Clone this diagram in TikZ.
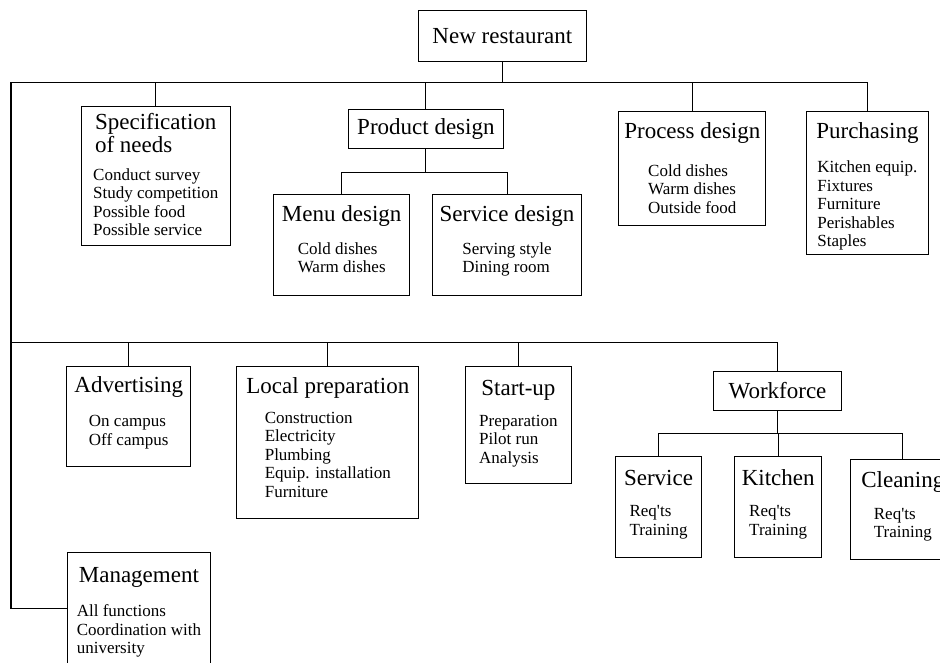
\documentclass[tikz,border=0pt]{standalone}
\usepackage{fontspec}
\setmainfont{Liberation Serif}

\newcommand{\hdfont}{\fontsize{23}{23.5}\selectfont}
\newcommand{\lnfont}{\fontsize{17}{18.5}\selectfont}
% [top pad][gap under heading]{width}{height}{heading}{lines}
\NewDocumentCommand{\unitbox}{O{10pt} O{11pt} m m m m}{%
  \parbox[t][#4][t]{#3}{\centering\vspace*{#1}%
    {\hdfont\begin{tabular}[t]{@{}l@{}}#5\end{tabular}\par}%
    \nointerlineskip\vspace{#2}%
    {\lnfont\begin{tabular}[t]{@{}l@{}}#6\end{tabular}\par}}}

\begin{document}
\begin{tikzpicture}[x=1pt,y=-1pt,line width=1.1pt]
  \tikzstyle{unit}=[draw, rectangle, inner sep=0pt, anchor=north west]
  \tikzstyle{head}=[unit, font=\hdfont]
  \useasboundingbox (0,0) rectangle (940,662);

  % project and first row of tasks
  \node[head, minimum width=167.7pt, minimum height=51pt] (newres) at (418,10) {New restaurant};
  \node[unit] (spec) at (80.7,105.7) {\unitbox[6.4pt][7.6pt]{149pt}{139.3pt}{Specification\\of needs}{Conduct survey\\Study competition\\Possible food\\Possible service}};
  \node[head, minimum width=155.3pt, minimum height=38.7pt] (prod) at (347.7,109) {Product design};
  \node[unit] (menu) at (273,194) {\unitbox[10pt][13pt]{136.3pt}{100.7pt}{Menu design}{Cold dishes\\Warm dishes}};
  \node[unit] (servd) at (431.7,194) {\unitbox[10pt][13pt]{149.6pt}{100.7pt}{Service design}{Serving style\\Dining room}};
  \node[unit] (proc) at (618.3,111) {\unitbox[10pt][18pt]{147pt}{114.3pt}{Process design}{Cold dishes\\Warm dishes\\Outside food}};
  \node[unit] (purch) at (805.7,111) {\unitbox[10pt][14.7pt]{122.3pt}{143pt}{Purchasing}{Kitchen equip.\\Fixtures\\Furniture\\Perishables\\Staples}};

  % second row
  \node[unit] (adv) at (66,365.7) {\unitbox[10pt][14pt]{124.3pt}{100.6pt}{Advertising}{On campus\\Off campus}};
  \node[unit] (local) at (236.3,366) {\unitbox[10pt][10pt]{182pt}{151.7pt}{Local preparation}{Construction\\Electricity\\Plumbing\\Equip. installation\\Furniture}};
  \node[unit] (startup) at (465,366) {\unitbox[12pt][11pt]{105.7pt}{117pt}{Start-up}{Preparation\\Pilot run\\Analysis}};
  \node[head, minimum width=127.4pt, minimum height=39pt] (work) at (713.3,370.7) {Workforce};
  \node[unit] (serv) at (614.7,456) {\unitbox[12pt][11.7pt]{86.6pt}{101pt}{Service}{Req\textquotesingle ts\\Training}};
  \node[unit] (kitch) at (734.3,456) {\unitbox[12pt][11.7pt]{86.7pt}{101pt}{Kitchen}{Req\textquotesingle ts\\Training}};
  \node[unit] (clean) at (850.3,458.7) {\unitbox[12pt][11.7pt]{104pt}{100.6pt}{Cleaning}{Req\textquotesingle ts\\Training}};
  \node[unit] (mgmt) at (66.7,551.7) {\unitbox[14pt][14pt]{143.3pt}{112pt}{Management}{All functions\\Coordination with\\university}};

  % tree lines
  \coordinate (rail) at (11,342.7);
  \draw (newres.south) -- ++(0,20) coordinate (hub) -| (spec.north);
  \draw (hub) -| (prod.north);
  \draw (hub) -| (proc.north);
  \draw (hub) -| (purch.north);
  \draw (hub) -| (rail) |- (mgmt.west);
  \draw (rail) -| (adv.north);
  \draw (rail) -| (local.north);
  \draw (rail) -| (startup.north);
  \draw (rail) -| (work.north);
  \draw (prod.south) -- ++(0,24) coordinate (prodhub) -| (menu.north);
  \draw (prodhub) -| (servd.north);
  \draw (work.south) -- ++(0,22.6) coordinate (workhub) -| (serv.north);
  \draw (workhub) -| (kitch.north);
  \draw (workhub) -| (clean.north);
\end{tikzpicture}
\end{document}
